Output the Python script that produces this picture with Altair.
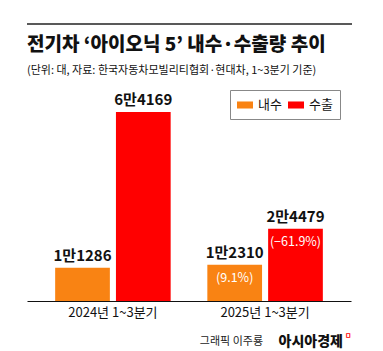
import altair as alt
import pandas as pd

FONT = "Noto Sans CJK KR"

title_text = "전기차 ‘아이오닉 5’ 내수·수출량 추이"
subtitle_text = "(단위: 대, 자료: 한국자동차모빌리티협회·현대차, 1~3분기 기준)"
credit_name = "그래픽 이주룡"
credit_brand = "아시아경제"

periods = ["2024년 1~3분기", "2025년 1~3분기"]
types = ["내수", "수출"]
domestic = [11286, 12310]
export = [64169, 24479]
domestic_labels = ["1만1286", "1만2310"]
export_labels = ["6만4169", "2만4479"]
domestic_change = ["", "(9.1%)"]
export_change = ["", "(−61.9%)"]

colors = ["#F98313", "#FF0000"]

rows = []
for i, p in enumerate(periods):
    rows.append({"period": p, "type": types[0], "value": domestic[i],
                 "label": domestic_labels[i], "change": domestic_change[i]})
    rows.append({"period": p, "type": types[1], "value": export[i],
                 "label": export_labels[i], "change": export_change[i]})
df = pd.DataFrame(rows)

x_enc = alt.X("period:N", sort=periods,
              scale=alt.Scale(paddingInner=0.241, paddingOuter=0.185),
              axis=alt.Axis(title=None, labelAngle=0, domainColor="#111111",
                            domainWidth=1, ticks=False, labelFontSize=13,
                            labelColor="#111111", labelPadding=5, labelFont=FONT))
xo_enc = alt.XOffset("type:N", sort=types,
                     scale=alt.Scale(paddingInner=0.1, paddingOuter=0))
y_enc = alt.Y("value:Q", scale=alt.Scale(domain=[0, 75000]), axis=None)

base = alt.Chart(df)

bars = base.mark_bar().encode(
    x=x_enc, xOffset=xo_enc, y=y_enc,
    color=alt.Color("type:N", sort=types,
                    scale=alt.Scale(domain=types, range=colors),
                    legend=alt.Legend(title=None, orient="none", direction="horizontal",
                                      legendX=203, legendY=10, padding=7,
                                      strokeColor="#888888", fillColor="white",
                                      symbolType="M-1,-0.44H1V0.44H-1Z", symbolSize=256,
                                      symbolStrokeWidth=0, labelFontSize=13,
                                      labelFont=FONT, labelColor="#111111",
                                      columnPadding=6, labelOffset=5)),
)

value_text = base.mark_text(baseline="bottom", dy=-4, fontWeight="bold",
                            fontSize=15, font=FONT, color="#111111").encode(
    x=x_enc, xOffset=xo_enc, y=y_enc, text="label:N")

change_text = base.transform_filter("datum.change != ''").mark_text(
    baseline="top", dy=7, fontSize=12.5, font=FONT, color="white").encode(
    x=x_enc, xOffset=xo_enc, y=y_enc, text="change:N")

one = pd.DataFrame({"a": [0]})

top_rule = alt.Chart(one).mark_rule(color="#222222", strokeWidth=1.3).encode(
    x=alt.value(0), x2=alt.value(325), y=alt.value(-56))

title = alt.Chart(pd.DataFrame({"t": [title_text]})).mark_text(
    align="left", baseline="middle", fontSize=19, fontWeight=900,
    font=FONT, color="#111111").encode(x=alt.value(0), y=alt.value(-35), text="t:N")

subtitle = alt.Chart(pd.DataFrame({"t": [subtitle_text]})).mark_text(
    align="left", baseline="middle", fontSize=11,
    font=FONT, color="#111111").encode(x=alt.value(0), y=alt.value(-9), text="t:N")

credit1 = alt.Chart(pd.DataFrame({"t": [credit_name]})).mark_text(
    align="right", baseline="middle", fontSize=11,
    font=FONT, color="#222222").encode(x=alt.value(236), y=alt.value(262), text="t:N")

credit2 = alt.Chart(pd.DataFrame({"t": [credit_brand]})).mark_text(
    align="right", baseline="middle", fontSize=14, fontWeight=900,
    font=FONT, color="#111111").encode(x=alt.value(316), y=alt.value(262), text="t:N")

credit_mark = alt.Chart(pd.DataFrame({"t": ["ㅁ"]})).mark_text(
    align="left", baseline="middle", fontSize=7, fontWeight="bold",
    font=FONT, color="#FF0000").encode(x=alt.value(318), y=alt.value(256), text="t:N")

chart = alt.layer(bars, value_text, change_text, top_rule, title, subtitle,
                  credit1, credit2, credit_mark).properties(
    width=324, height=221,
    autosize=alt.AutoSizeParams(type="none"),
    padding={"left": 27, "top": 80, "right": 32, "bottom": 50},
    background="white",
).configure_view(stroke=None)

chart.save("out.html", embed_options={"renderer": "svg", "actions": False})
